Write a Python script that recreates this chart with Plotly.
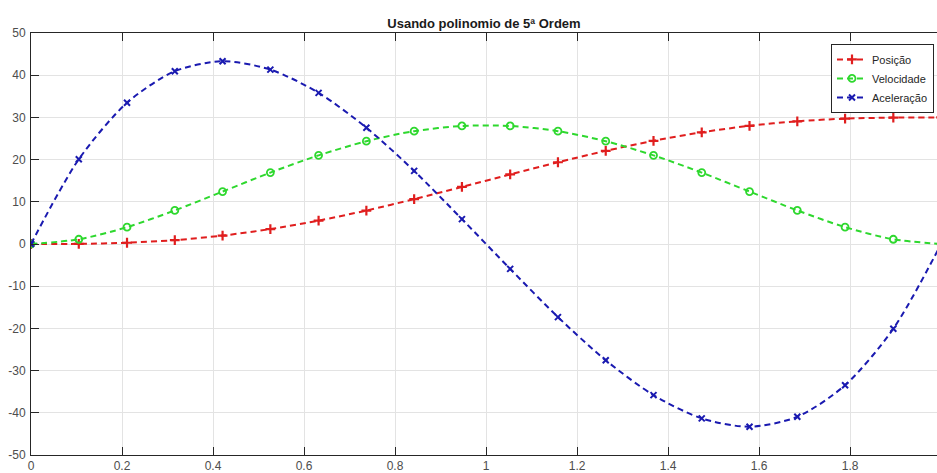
import plotly.graph_objects as go

# time samples (s)
t = [0.0, 0.105, 0.211, 0.316, 0.421, 0.526, 0.632, 0.737, 0.842, 0.947,
     1.053, 1.158, 1.263, 1.368, 1.474, 1.579, 1.684, 1.789, 1.895, 2.0]

posicao = [0.0, 0.04, 0.30, 0.92, 1.99, 3.54, 5.54, 7.93, 10.63, 13.52,
           16.48, 19.37, 22.07, 24.46, 26.46, 28.01, 29.08, 29.70, 29.96, 30.0]

velocidade = [0.0, 1.12, 3.99, 7.96, 12.43, 16.92, 21.01, 24.36, 26.74, 27.97,
              27.97, 26.74, 24.36, 21.01, 16.92, 12.43, 7.96, 3.99, 1.12, 0.0]

aceleracao = [0.0, 20.07, 33.46, 40.94, 43.30, 41.33, 35.82, 27.55, 17.32, 5.90,
              -5.90, -17.32, -27.55, -35.82, -41.33, -43.30, -40.94, -33.46, -20.07, 0.0]

x_ticks = [0, 0.2, 0.4, 0.6, 0.8, 1, 1.2, 1.4, 1.6, 1.8]
x_labels = ["0", "0.2", "0.4", "0.6", "0.8", "1", "1.2", "1.4", "1.6", "1.8"]
y_ticks = [-50, -40, -30, -20, -10, 0, 10, 20, 30, 40, 50]
y_labels = ["-50", "-40", "-30", "-20", "-10", "0", "10", "20", "30", "40", "50"]

RED = "#E01E1E"
GREEN = "#2ED82E"
BLUE = "#1A1AB0"
dash = "6px,4px"

fig = go.Figure()
fig.add_trace(go.Scatter(
    x=t, y=posicao, name="Posição", mode="lines+markers",
    line=dict(color=RED, width=2, dash=dash, shape="spline", smoothing=0.8),
    marker=dict(symbol="cross-thin", size=7, line=dict(color=RED, width=2.2), color=RED),
))
fig.add_trace(go.Scatter(
    x=t, y=velocidade, name="Velocidade", mode="lines+markers",
    line=dict(color=GREEN, width=2, dash=dash, shape="spline", smoothing=0.8),
    marker=dict(symbol="circle-open", size=7, line=dict(color=GREEN, width=1.8), color=GREEN),
))
fig.add_trace(go.Scatter(
    x=t, y=aceleracao, name="Aceleração", mode="lines+markers",
    line=dict(color=BLUE, width=2, dash=dash, shape="spline", smoothing=0.8),
    marker=dict(symbol="x-thin", size=6, line=dict(color=BLUE, width=2), color=BLUE),
))

axis_common = dict(
    showgrid=True, gridcolor="#E3E3E3", gridwidth=1,
    showline=True, linecolor="#262626", linewidth=1,
    ticks="inside", ticklen=8, tickcolor="#262626", tickwidth=1,
    zeroline=False,
    tickfont=dict(family="Liberation Sans, Arial, sans-serif", size=12, color="#4D4D4D"),
)

fig.update_layout(
    width=937, height=473,
    margin=dict(l=31, r=0, t=33, b=15),
    paper_bgcolor="white", plot_bgcolor="white",
    title=dict(
        text="<b>Usando polinomio de 5ª Ordem</b>",
        x=0.5, xref="paper", xanchor="center",
        y=1 - 23 / 473, yref="container", yanchor="middle",
        font=dict(family="Liberation Sans, Arial, sans-serif", size=13, color="#1A1A1A"),
    ),
    xaxis=dict(range=[0, 1.991], tickvals=x_ticks, ticktext=x_labels, mirror="ticks", **axis_common),
    yaxis=dict(range=[-50, 50], tickvals=y_ticks, ticktext=y_labels, mirror=False,
               ticklabelstandoff=2, **axis_common),
    showlegend=True,
    legend=dict(
        x=0.883, y=0.974, xanchor="left", yanchor="top",
        bgcolor="white", bordercolor="#262626", borderwidth=1,
        font=dict(family="Liberation Sans, Arial, sans-serif", size=11, color="#262626"),
        itemwidth=30, tracegroupgap=0,
    ),
)

fig.write_html("out.html")
